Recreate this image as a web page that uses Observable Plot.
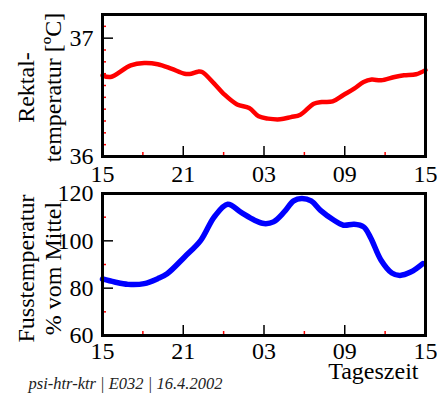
<!DOCTYPE html>
<html><head><meta charset="utf-8">
<script src="https://cdn.jsdelivr.net/npm/d3@7"></script>
<script src="https://cdn.jsdelivr.net/npm/@observablehq/plot@0.6"></script>
<style>
body{margin:0;background:#fff;}
#c{position:relative;width:437px;height:394px;overflow:hidden;background:#fff;}
#c svg{position:absolute;left:0;overflow:visible;background:none !important;}
#c svg, #c svg text{font-family:"Liberation Serif","Times New Roman",serif !important;}
</style></head><body><div id="c"></div>
<script>
// hours since 15:00
const rektalHours = [0,0.6,2.1,3.1,4.1,5.1,6.1,6.6,7.1,7.4,8.3,9.0,10.0,10.9,11.6,12.3,13.2,14.0,14.7,15.7,16.3,17.1,17.9,18.7,19.4,20.0,20.7,21.7,22.4,23.3,24];
const rektalTemp  = [36.686,36.672,36.771,36.79,36.78,36.743,36.70,36.70,36.717,36.714,36.616,36.53,36.44,36.41,36.34,36.32,36.314,36.333,36.353,36.446,36.46,36.466,36.52,36.573,36.63,36.65,36.644,36.672,36.686,36.695,36.73];
const fussHours = [0,0.9,1.9,3.1,4.1,4.8,6.1,7.3,8.3,9.3,10.3,11.3,12.0,12.7,13.5,14.2,14.8,15.5,16.2,17.2,17.9,18.7,19.4,19.9,20.7,21.5,22.1,22.9,23.8];
const fussTemp  = [83.9,82.6,81.6,81.9,84,86.1,93.2,100.2,110.1,115.5,112,108.7,107.3,108,112.2,116.9,117.9,116.9,112.9,108.7,106.6,107,105.9,101.6,91.8,86.4,85.4,86.8,90.4];
const xMajor = [0,6,12,18,24];
const xMinor = [3,9,15,21];
const startHour = 15;
const rektalMajor = [36,37];
const rektalMinor = [36.1,36.2,36.3,36.4,36.5,36.6,36.7,36.8,36.9,37.1];
const fussMajor = [60,80,100,120];
const fussMinor = [70,90,110];
const labelTop = "Rektal-\ntemperatur [ºC]";
const labelBottom = "Fusstemperatur\n% vom Mittel";
const xTitle = "Tageszeit";
const caption = "psi-htr-ktr | E032 | 16.4.2002";

const rektal = rektalHours.map((h,i)=>({h, v: rektalTemp[i]}));
const fuss = fussHours.map((h,i)=>({h, v: fussTemp[i]}));
const fmtX = h => String((startHour + h) % 24).padStart(2,"0");
const fmtY = d3.format("d");
const FONT = 24;
const FAM = '"Liberation Serif", serif';

function panel({data, color, width, domain, major, minor, label, labelDy, xPad, height, mt, mb, extra=[]}) {
  return Plot.plot({
    width: 437, height, marginLeft: 102, marginRight: 12, marginTop: mt, marginBottom: mb,
    style: {fontFamily: FAM, fontSize: FONT + "px", overflow: "visible"},
    x: {domain: [0,24]},
    y: {domain},
    marks: [
      Plot.line(data, {x: "h", y: "v", stroke: color, strokeWidth: width, curve: "catmull-rom"}),
      Plot.axisX(xMajor, {anchor: "bottom", tickSize: -10, stroke: "black", strokeWidth: 1.5, text: null, label: null}),
      Plot.axisX(xMinor, {anchor: "bottom", tickSize: -4, stroke: "red", strokeWidth: 1.5, text: null, label: null}),
      Plot.axisX(xMajor, {anchor: "bottom", tickSize: 0, tickPadding: xPad, tickFormat: fmtX, fontSize: FONT, fontFamily: FAM, fill: "black", label: null}),
      Plot.axisY(major, {anchor: "left", tickSize: -11, stroke: "black", strokeWidth: 1.5, text: null, label: null}),
      Plot.axisY(minor, {anchor: "left", tickSize: -4, stroke: "red", strokeWidth: 1.5, text: null, label: null}),
      Plot.axisY(major, {anchor: "left", tickSize: 0, tickPadding: 9, tickFormat: fmtY, fontSize: FONT, fontFamily: FAM, fill: "black", label: null}),
      Plot.frame({stroke: "black", strokeWidth: 3}),
      Plot.text([label], {frameAnchor: "left", textAnchor: "middle", rotate: -90, dx: -64, dy: labelDy, fontSize: FONT, fontFamily: FAM, lineHeight: 1.12, fill: "black"}),
      ...extra
    ]
  });
}

const topPanel = panel({data: rektal, color: "#ff0000", width: 4.5, domain: [36, 37.2], major: rektalMajor, minor: rektalMinor, label: labelTop, labelDy: 2, xPad: 8, height: 185, mt: 14, mb: 29});
topPanel.style.top = "0px";
const bottomPanel = panel({data: fuss, color: "#0000ff", width: 5.5, domain: [60, 120], major: fussMajor, minor: fussMinor, label: labelBottom, labelDy: 4, xPad: 6, height: 209, mt: 8, mb: 59,
  extra: [
    Plot.text([xTitle], {frameAnchor: "bottom-right", textAnchor: "end", lineAnchor: "middle", dx: -7, dy: 36, fontSize: FONT, fontFamily: FAM, fill: "black"}),
    Plot.text([caption], {frameAnchor: "bottom-left", textAnchor: "start", lineAnchor: "middle", dx: -74, dy: 48, fontSize: 16.5, fontFamily: FAM, fontStyle: "italic", fill: "#222"})
  ]});
bottomPanel.style.top = "185px";
document.getElementById("c").append(topPanel, bottomPanel);
</script></body></html>
